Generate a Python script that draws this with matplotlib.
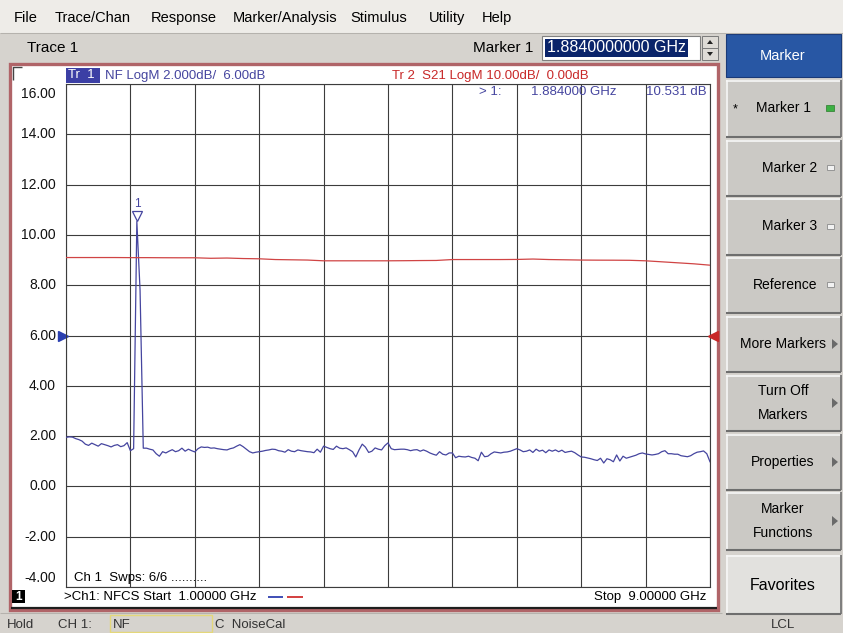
import numpy as np
import matplotlib
matplotlib.use("Agg")
import matplotlib.pyplot as plt
from matplotlib.patches import Rectangle, Polygon
from matplotlib.transforms import offset_copy

plt.rcParams['font.family'] = ['Liberation Sans', 'DejaVu Sans']

W, H = 843, 633

# ---- data ---------------------------------------------------------------
start_ghz, stop_ghz = 1.0, 9.0
n_points = 201          # sweep points, 40 MHz apart

# Tr 1: noise figure (dB), one value per sweep point
nf_db = [
    # 1.00 - 1.84 GHz
    1.95, 1.97, 1.96, 1.90, 1.86, 1.80, 1.68, 1.63, 1.72, 1.66, 1.60,
    1.70, 1.66, 1.62, 1.57, 1.63, 1.66, 1.58, 1.62, 1.74, 1.42, 1.50,
    # 1.88 - 1.96 GHz (spur)
    10.53, 7.80, 1.52,
    # 2.00 - 3.60 GHz
    1.52, 1.48, 1.45, 1.30, 1.20, 1.38, 1.33, 1.40, 1.46, 1.38, 1.42,
    1.52, 1.40, 1.48, 1.42, 1.37, 1.50, 1.57, 1.55, 1.56, 1.52, 1.53,
    1.50, 1.48, 1.46, 1.45, 1.50, 1.53, 1.60, 1.66, 1.58, 1.48, 1.38,
    1.33, 1.36, 1.38, 1.40, 1.43, 1.45, 1.48, 1.47,
    # 3.64 - 6.24 GHz
    1.42, 1.40, 1.36, 1.46, 1.40, 1.38, 1.45, 1.42, 1.40, 1.38, 1.37,
    1.34, 1.48, 1.36, 1.60, 1.55, 1.50, 1.47, 1.60, 1.52, 1.50, 1.53,
    1.46, 1.38, 1.17, 1.45, 1.68, 1.56, 1.35, 1.40, 1.53, 1.48, 1.45,
    1.62, 1.73, 1.50, 1.46, 1.47, 1.48, 1.48, 1.46, 1.42, 1.45, 1.46,
    1.40, 1.45, 1.40, 1.33, 1.28, 1.24, 1.38, 1.28, 1.25, 1.33, 1.33,
    1.14, 1.20, 1.18, 1.17, 1.20, 1.15, 1.12, 1.02, 1.36, 1.18, 1.20,
    # 6.28 - 9.00 GHz
    1.30, 1.37, 1.35, 1.33, 1.36, 1.37, 1.40, 1.45, 1.50, 1.45, 1.38,
    1.40, 1.45, 1.35, 1.48, 1.40, 1.44, 1.34, 1.45, 1.40, 1.45, 1.38,
    1.44, 1.35, 1.38, 1.40, 1.34, 1.25, 1.17, 1.16, 1.13, 1.10, 1.06,
    1.03, 1.12, 0.93, 1.10, 1.06, 0.98, 1.25, 1.01, 1.20, 1.12, 1.16,
    1.20, 1.24, 1.30, 1.33, 1.29, 1.27, 1.25, 1.27, 1.30, 1.38, 1.42,
    1.30, 1.30, 1.28, 1.28, 1.22, 1.20, 1.18, 1.22, 1.30, 1.36, 1.38,
    1.41, 1.30, 0.98,
]

# Tr 2: S21 gain (dB)
s21_freq_ghz = [1.0, 1.2, 1.4, 1.6, 1.8, 2.0, 2.2, 2.4, 2.6, 2.8, 3.0,
                3.2, 3.4, 3.6, 3.8, 4.0, 4.2, 4.4, 4.6, 4.8, 5.0, 5.2,
                5.4, 5.6, 5.8, 6.0, 6.2, 6.4, 6.6, 6.8, 7.0, 7.2, 7.4,
                7.6, 7.8, 8.0, 8.2, 8.4, 8.6, 8.8, 9.0]
s21_db = [15.50, 15.50, 15.50, 15.50, 15.48, 15.48, 15.46, 15.45, 15.45,
          15.35, 15.40, 15.30, 15.25, 15.10, 15.05, 15.00, 14.85, 14.85,
          14.85, 14.85, 14.85, 14.87, 14.90, 14.92, 15.10, 15.10, 15.10,
          15.10, 15.12, 15.20, 15.10, 15.05, 15.00, 14.98, 14.97, 14.95,
          14.85, 14.65, 14.45, 14.25, 13.98]

marker_freq_ghz = 1.884
marker_nf_db = 10.531

# display scales (dB/div, reference value, reference position in divisions)
nf_scale, nf_ref = 2.0, 6.0
s21_scale, s21_ref = 10.0, 0.0
ref_pos, n_div = 5, 10

menu_items = ["File", "Trace/Chan", "Response", "Marker/Analysis",
              "Stimulus", "Utility", "Help"]
menu_x = [14, 55, 151, 233, 350, 429, 482]

softkeys = [(["Marker 1"], 80, 137), (["Marker 2"], 140, 196),
            (["Marker 3"], 198, 255), (["Reference"], 257, 313),
            (["More Markers"], 316, 372), (["Turn Off", "Markers"], 375, 431),
            (["Properties"], 434, 490), (["Marker", "Functions"], 492, 550)]

BLUE = '#45459f'
RED = '#d04444'
GRID = '#3c3c3c'

fig = plt.figure(figsize=(W / 100, H / 100), dpi=100)


def overlay(z):
    a = fig.add_axes([0, 0, 1, 1], zorder=z)
    a.set_xlim(0, W)
    a.set_ylim(H, 0)
    a.axis('off')
    a.patch.set_visible(False)
    return a


def rect(a, x0, y0, x1, y1, **kw):
    kw.setdefault('ec', 'none')
    a.add_patch(Rectangle((x0, y0), x1 - x0, y1 - y0, **kw))


def line(a, xs, ys, c, lw=0.75):
    a.plot(xs, ys, color=c, lw=lw, solid_capstyle='butt')


ui = overlay(0)

# window background, menu bar, trace row
rect(ui, 0, 0, W, H, fc='#d6d3ce')
rect(ui, 0, 0, W, 33, fc='#eeece8')
line(ui, [0, W], [33, 33], '#b5b2ad')
for name, x in zip(menu_items, menu_x):
    ui.text(x, 18, name, fontsize=10.5, va='center')

ui.text(27, 48, "Trace 1", fontsize=11, va='center')
ui.text(533, 48, "Marker 1", fontsize=11, va='center', ha='right')
rect(ui, 542, 36, 700, 60, fc='white', ec='#808080', lw=0.8)
rect(ui, 545, 39, 688, 57, fc='#0a246a')
ui.text(547, 48, f"{marker_freq_ghz:.10f} GHz", fontsize=11.5, color='white',
        va='center')
for y0 in (36, 48):
    rect(ui, 702, y0, 718, y0 + 12, fc='#dedbd6', ec='#7a7a7a', lw=0.7)
ui.add_patch(Polygon([[707, 44], [713, 44], [710, 40]], fc='#222'))
ui.add_patch(Polygon([[707, 52], [713, 52], [710, 56]], fc='#222'))

# soft key panel
rect(ui, 726, 34, 841, 77, fc='#2857a4', ec='#1a3a78', lw=0.8)
ui.text(783, 56, "Marker", fontsize=10.5, color='white', ha='center',
        va='center')


def softkey(y0, y1, face):
    rect(ui, 726, y0, 841, y1, fc=face)
    line(ui, [726, 841], [y0 + 0.5, y0 + 0.5], '#f7f7f7', 1.2)
    line(ui, [726.5, 726.5], [y0, y1], '#f7f7f7', 1.2)
    line(ui, [726, 841], [y1 - 0.5, y1 - 0.5], '#6e6e6e', 1.5)
    line(ui, [840.5, 840.5], [y0, y1], '#6e6e6e', 1.2)


for i, (labels, y0, y1) in enumerate(softkeys):
    softkey(y0, y1, '#cbc9c5')
    ym = (y0 + y1) / 2
    cx = 790 if i in (1, 2) else (785 if i == 3 else 783)
    if len(labels) == 1:
        ui.text(cx, ym, labels[0], fontsize=10, ha='center', va='center')
    else:
        ui.text(cx, ym - 12, labels[0], fontsize=10, ha='center', va='center')
        ui.text(cx, ym + 12, labels[1], fontsize=10, ha='center', va='center')
    if i == 0:
        ui.text(735, ym + 1, "*", fontsize=9, ha='center', va='center')
        rect(ui, 826, ym - 3.5, 834, ym + 2.5, fc='#3cb043', ec='#2a7a2a',
             lw=0.5)
    elif i <= 3:
        rect(ui, 827, ym - 3, 834, ym + 2, fc='#f2f2f2', ec='#8a8a8a', lw=0.6)
    else:
        ui.add_patch(Polygon([[832, ym - 5], [832, ym + 5], [838, ym]],
                             fc='#6a6a6a'))

softkey(555, 614, '#e2e1de')
ui.text(783, 585, "Favorites", fontsize=11.5, ha='center', va='center')
ui.text(783, 625, "LCL", fontsize=9.5, ha='center', va='center', color='#333')

# status bar
line(ui, [0, 722], [613, 613], '#b5b2ad')
ui.text(7, 625, "Hold", fontsize=9.5, va='center', color='#333')
ui.text(58, 625, "CH 1:", fontsize=9.5, va='center', color='#333')
rect(ui, 110, 615, 212, 632, fc='#d6d3ce', ec='#e4d77a', lw=1)
ui.text(113, 625, "NF", fontsize=9.5, va='center', color='#333')
ui.text(215, 625, "C  NoiseCal", fontsize=9.5, va='center', color='#333')

# measurement window
rect(ui, 10, 64, 718, 610, fc='white', ec='#b06468', lw=2.4)
line(ui, [11, 717], [607.5, 607.5], '#1e1e1e', 1.6)
line(ui, [13, 13, 22], [80, 67, 67], '#444444', 1)

# ---- traces -------------------------------------------------------------
ax = fig.add_axes([66 / W, 1 - 587 / H, 644 / W, 503 / H], zorder=5)
ax.patch.set_visible(False)
freq = np.linspace(start_ghz, stop_ghz, n_points)
nf_bottom = nf_ref - ref_pos * nf_scale
ax.set_xlim(start_ghz, stop_ghz)
ax.set_ylim(nf_bottom, nf_bottom + n_div * nf_scale)
ax.set_xticks(np.linspace(start_ghz, stop_ghz, n_div + 1))
yticks = np.linspace(nf_bottom, nf_bottom + n_div * nf_scale, n_div + 1)
ax.set_yticks(yticks)
ax.tick_params(length=0, labelleft=False, labelbottom=False)
ax.grid(True, color=GRID, lw=0.8)
for s in ax.spines.values():
    s.set_color(GRID)
    s.set_linewidth(0.8)

for i, v in enumerate(yticks):
    va = 'bottom' if i == 0 else ('top' if i == len(yticks) - 1 else 'center')
    dy = 2 if i == 0 else (-3 if i == len(yticks) - 1 else 0)
    ax.annotate(f"{v:.2f}", xy=(0, v), xycoords=('axes fraction', 'data'),
                xytext=(-10, dy), textcoords='offset pixels', ha='right',
                va=va, fontsize=10, color='#111')

ax.plot(freq, nf_db, color=BLUE, lw=0.9, zorder=3)

# marker 1
ax.plot([marker_freq_ghz], [marker_nf_db], marker='v', ms=7, mfc='white',
        mec=BLUE, mew=0.9, clip_on=False, zorder=4,
        transform=offset_copy(ax.transData, fig=fig, y=6, units='dots'))
ax.annotate("1", xy=(marker_freq_ghz, marker_nf_db), xytext=(0, 18),
            textcoords='offset pixels', ha='center', va='center',
            fontsize=8.5, color=BLUE)

# reference position arrow for Tr 1
ax.plot([0], [nf_ref], marker='>', ms=7, color='#2a3fb0', clip_on=False,
        transform=offset_copy(ax.get_yaxis_transform(), fig=fig, x=-3,
                              units='dots'))

ax2 = ax.twinx()
s21_bottom = s21_ref - ref_pos * s21_scale
ax2.set_ylim(s21_bottom, s21_bottom + n_div * s21_scale)
ax2.set_yticks([])
for s in ax2.spines.values():
    s.set_visible(False)
ax2.plot(s21_freq_ghz, s21_db, color=RED, lw=0.9)
ax2.plot([1], [s21_ref], marker='<', ms=7, color='#c82828', clip_on=False,
         transform=offset_copy(ax2.get_yaxis_transform(), fig=fig, x=3,
                               units='dots'))

# ---- annotation text on top --------------------------------------------
top = overlay(10)
rect(top, 66, 68, 100, 83, fc='#3c3fa5')
top.text(68, 75.5, "Tr  1", fontsize=9.5, color='white', va='center')
top.text(105, 75.5, f"NF LogM {nf_scale:.3f}dB/  {nf_ref:.2f}dB",
         fontsize=9.5, color=BLUE, va='center')
top.text(392, 75.5, f"Tr 2  S21 LogM {s21_scale:.2f}dB/  {s21_ref:.2f}dB",
         fontsize=9.5, color='#c82828', va='center')

top.text(479, 92, "> 1:", fontsize=9.5, color=BLUE, va='center')
top.text(531, 92, f"{marker_freq_ghz:.6f} GHz", fontsize=9.5, color=BLUE,
         va='center')
top.text(646, 92, f"{marker_nf_db:.3f} dB", fontsize=9.5, color=BLUE,
         va='center')

top.text(74, 578, "Ch 1  Swps: 6/6 ..........", fontsize=9.5, va='center')
rect(top, 12, 590, 25, 603, fc='black')
top.text(18.5, 596.5, "1", fontsize=8.5, color='white', ha='center',
         va='center', fontweight='bold')
top.text(64, 597, f">Ch1: NFCS Start  {start_ghz:.5f} GHz", fontsize=9.5,
         va='center')
line(top, [268, 283], [597, 597], '#3040b0', 1.3)
line(top, [287, 303], [597, 597], '#d03030', 1.3)
top.text(706, 597, f"Stop  {stop_ghz:.5f} GHz", fontsize=9.5, ha='right',
         va='center')

fig.savefig("out.png", dpi=100)
